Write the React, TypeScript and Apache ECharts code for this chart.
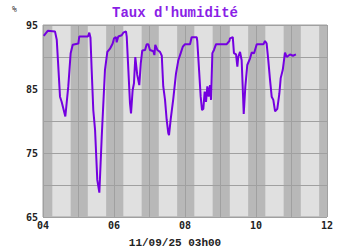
import React, { useEffect, useRef } from "react";
import * as echarts from "echarts";

// hours since 04/09 00h00
const hours = [
  0.5, 3.2, 8.1, 9.3, 11.5, 12.6, 13.7, 15.1, 17.1, 18.7, 20.1, 23.9, 24.5, 30.4, 31.3, 32.1,
  32.9, 34.0, 35.2, 36.7, 38.1, 39.7, 41.9, 43.5, 45.3, 47.1, 48.0, 49.4, 49.8, 50.9, 53.2,
  54.3, 56.1, 56.6, 57.7, 58.8, 59.5, 60.6, 61.5, 62.4, 63.7, 65.1, 66.1, 67.1, 69.0, 70.1,
  71.2, 72.3, 74.6, 75.3, 75.9, 77.3, 79.1, 80.3, 81.3, 82.5, 83.6, 84.7, 85.2, 86.3, 88.1,
  89.9, 91.5, 93.1, 94.5, 96.0, 99.4, 100.5, 103.9, 104.3, 105.5, 106.6, 107.5, 108.4, 109.3,
  110.2, 111.1, 112.0, 112.9, 113.6, 114.5, 115.6, 117.0, 124.2, 126.0, 126.4, 128.3, 129.1,
  130.5, 131.4, 132.0, 133.2, 134.3, 135.0, 135.7, 136.8, 138.1, 140.0, 141.1, 142.7, 144.5,
  149.0, 150.1, 151.2, 152.3, 153.5, 154.6, 155.7, 156.9, 158.4, 159.8, 160.7, 162.1, 163.6,
  164.8, 167.0, 169.0, 171.0,
];
const humidity = [
  93.3, 94.1, 94.0, 92.7, 83.8, 83.0, 82.0, 80.7, 85.4, 90.6, 91.9, 92.1, 93.2, 93.2, 93.8, 93.0,
  88.0, 81.7, 78.6, 70.8, 68.8, 77.5, 88.0, 90.8, 91.3, 92.1, 92.9, 93.1, 92.3, 93.2, 93.4,
  93.8, 94.0, 93.2, 88.0, 82.8, 81.2, 84.8, 85.9, 90.0, 87.2, 85.6, 89.0, 91.0, 91.1, 92.0,
  92.0, 91.1, 90.9, 90.3, 91.9, 91.1, 90.8, 90.2, 85.4, 83.3, 80.2, 78.1, 77.8, 80.2, 83.5,
  87.4, 89.5, 90.6, 91.6, 92.0, 92.0, 93.1, 93.1, 92.5, 88.0, 83.8, 81.7, 81.9, 84.6,
  83.0, 85.4, 83.8, 85.6, 83.3, 90.6, 91.1, 92.0, 92.0, 92.5, 92.9, 93.1, 90.6,
  90.4, 88.5, 90.0, 90.8, 89.5, 85.4, 81.1, 85.4, 88.75, 89.8, 90.7, 90.6, 92.0,
  92.0, 92.5, 92.1, 89.5, 86.4, 83.8, 83.3, 81.5, 81.9, 84.3, 86.7, 88.0, 90.7,
  90.0, 90.4, 90.2, 90.4,
];
// night bands [start, end] in hours
const nightBands: [number, number][] = [
  [0, 6.3], [18.7, 30.3], [42.7, 54.3], [66.7, 78.3], [90.7, 102.3],
  [114.7, 126.3], [138.7, 150.3], [162.7, 174.3], [186.7, 192],
];
const yTickLabels = ["65", "75", "85", "95"];
const title = "Taux d'humidité";
const unit = "%";
const footer = "11/09/25 03h00";

export default function App() {
  const ref = useRef<HTMLDivElement>(null);
  useEffect(() => {
    if (!ref.current) return;
    const chart = echarts.init(ref.current, null, { renderer: "svg" });
    const mono = "'DejaVu Sans Mono', 'Liberation Mono', monospace";
    chart.setOption({
      animation: false,
      backgroundColor: "#ffffff",
      title: [
        {
          text: title,
          left: "center",
          top: 1,
          textStyle: { fontFamily: "'Liberation Mono', monospace", fontWeight: "bold", fontSize: 14, color: "#8a1ee6" },
        },
        {
          text: unit,
          left: 7,
          top: 0,
          textStyle: { fontFamily: mono, fontWeight: "normal", fontSize: 8, color: "#333" },
        },
        {
          text: footer,
          left: "center",
          top: 237,
          padding: 0,
          textStyle: { fontFamily: "'Liberation Mono', monospace", fontWeight: "bold", fontSize: 11, color: "#222" },
        },
      ],
      grid: {
        left: 43,
        right: 23,
        top: 25,
        bottom: 33,
        show: true,
        backgroundColor: "#e0e0e0",
        borderColor: "#a0a0a0",
        borderWidth: 1,
      },
      xAxis: {
        type: "value",
        min: 0,
        max: 192,
        interval: 24,
        z: 3,
        axisLine: { show: false },
        axisTick: { show: false },
        splitLine: { show: true, lineStyle: { color: "#a0a0a0", width: 1 } },
        axisLabel: {
          margin: 3,
          fontFamily: mono,
          fontWeight: "bold",
          fontSize: 10,
          color: "#222",
          formatter: (v: number) => (v % 48 === 0 ? String(4 + v / 24).padStart(2, "0") : ""),
        },
      },
      yAxis: {
        type: "value",
        min: 65,
        max: 95,
        interval: 5,
        z: 3,
        axisLine: { show: false },
        axisTick: { show: false },
        splitLine: { show: true, lineStyle: { color: "#a0a0a0", width: 1 } },
        axisLabel: {
          margin: 5,
          fontFamily: mono,
          fontWeight: "bold",
          fontSize: 10,
          color: "#222",
          formatter: (v: number) => (yTickLabels.includes(String(v)) ? String(v) : ""),
        },
      },
      series: [
        {
          type: "line",
          z: 1,
          data: [],
          silent: true,
          markArea: {
            silent: true,
            itemStyle: { color: "#b8b8b8" },
            data: nightBands.map(([a, b]) => [{ xAxis: a }, { xAxis: b }]),
          },
        },
        {
          type: "line",
          z: 5,
          showSymbol: false,
          symbol: "none",
          data: hours.map((h, i) => [h, humidity[i]]),
          lineStyle: { color: "#7400e0", width: 2 },
        },
      ],
    });
    return () => chart.dispose();
  }, []);
  return <div ref={ref} style={{ position: "fixed", left: 0, top: 0, width: 350, height: 250 }} />;
}
